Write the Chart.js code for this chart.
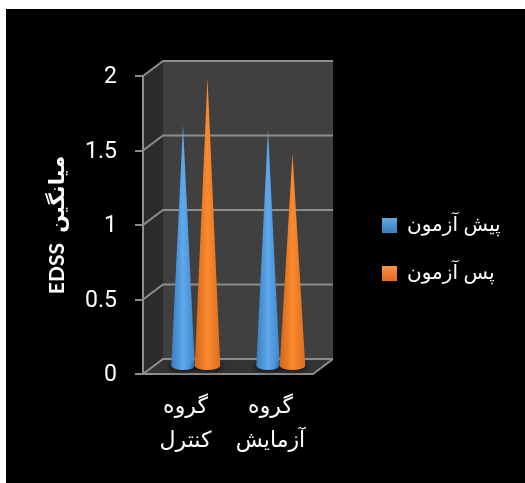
<!DOCTYPE html>
<html><head><meta charset="utf-8">
<style>html,body{margin:0;padding:0;background:#fff;overflow:hidden}
#wrap{position:absolute;left:6px;top:9px;width:519px;height:474px;background:#000}
canvas{display:block}</style>
<script src="https://cdn.jsdelivr.net/npm/chart.js@4"></script>
</head><body><div id="wrap"><canvas id="c" width="519" height="474"></canvas></div>
<script>
const categories = [['گروه','کنترل'],['گروه','آزمایش']];
const seriesNames = ['پیش آزمون','پس آزمون'];
const preTest = [1.62, 1.59];
const postTest = [1.94, 1.43];
const yTicks = [0, 0.5, 1, 1.5, 2];
const yTitle = 'EDSS  میانگین';
const coneStops = [['#3a7dbd','#5fa9ec','#3f86c8'],['#d2661b','#fb8a2e','#dc6f1f']];
const swatchStops = [['#74aee2','#3d85c6'],['#fb9a5a','#e8701f']];
const DEPTH_X = 20, DEPTH_Y = 15, LEGEND_W = 212, LEGEND_DX = 41, LEGEND_DY = -30;
const GRID = '#8d8d8d';
const persian = '"Liberation Sans","DejaVu Sans",sans-serif';

const scene = {
  id:'scene',
  beforeInit(chart){
    const lg = chart.legend, fit = lg.fit, draw = lg.draw;
    lg.fit = function(){ fit.call(this); this.width = LEGEND_W; };
    lg.draw = function(){
      const c = this.ctx;
      this.legendItems.forEach((it,i)=>{
        const b = this.legendHitBoxes[i]; if(!b) return;
        const g = c.createLinearGradient(0,b.top,0,b.top+15);
        g.addColorStop(0,swatchStops[i][0]); g.addColorStop(1,swatchStops[i][1]);
        it.fillStyle = g;
      });
      c.save(); c.translate(LEGEND_DX,LEGEND_DY); draw.call(this); c.restore();
    };
  },
  beforeDraw(chart){
    const {ctx,chartArea:a,scales:{y}} = chart;
    const dx=DEPTH_X, dy=DEPTH_Y;
    ctx.save();
    ctx.fillStyle='#404040'; ctx.fillRect(a.left+dx,a.top-dy,a.width,a.height);
    ctx.fillStyle='#2b2b2b'; ctx.beginPath();
    ctx.moveTo(a.left,a.top); ctx.lineTo(a.left+dx,a.top-dy); ctx.lineTo(a.left+dx,a.bottom-dy); ctx.lineTo(a.left,a.bottom); ctx.closePath(); ctx.fill();
    ctx.fillStyle='#333333'; ctx.beginPath();
    ctx.moveTo(a.left,a.bottom); ctx.lineTo(a.left+dx,a.bottom-dy); ctx.lineTo(a.right+dx,a.bottom-dy); ctx.lineTo(a.right,a.bottom); ctx.closePath(); ctx.fill();
    ctx.strokeStyle=GRID; ctx.lineWidth=2;
    y.ticks.forEach(t=>{
      const py=y.getPixelForValue(t.value);
      ctx.beginPath(); ctx.moveTo(a.left,py); ctx.lineTo(a.left+dx,py-dy); ctx.lineTo(a.right+dx,py-dy); ctx.stroke();
    });
    ctx.beginPath(); ctx.moveTo(a.right,a.bottom); ctx.lineTo(a.right+dx,a.bottom-dy); ctx.stroke();
    ctx.restore();
  },
  beforeDatasetDraw(){ return false; },
  afterDatasetsDraw(chart){
    const ctx=chart.ctx;
    chart.data.datasets.forEach((ds,i)=>{
      chart.getDatasetMeta(i).data.forEach(el=>{
        const cx=el.x+DEPTH_X/2-0.25, ay=el.y-DEPTH_Y/2, by=el.base-DEPTH_Y/2;
        const hw=el.width/2+(i?0.5:-0.5), ry=4.5;
        ctx.save();
        ctx.fillStyle='rgba(0,0,0,.55)'; ctx.filter='blur(2px)';
        ctx.beginPath(); ctx.ellipse(cx,by+1,hw+2,ry+1,0,0,Math.PI*2); ctx.fill();
        ctx.filter='none';
        const g=ctx.createLinearGradient(cx-hw,0,cx+hw,0);
        const s=coneStops[i];
        g.addColorStop(0,s[0]); g.addColorStop(.5,s[1]); g.addColorStop(1,s[2]);
        ctx.fillStyle=g;
        ctx.beginPath(); ctx.moveTo(cx,ay); ctx.lineTo(cx+hw,by);
        ctx.ellipse(cx,by,hw,ry,0,0,Math.PI); ctx.closePath(); ctx.fill();
        ctx.restore();
      });
    });
  }
};

new Chart(document.getElementById('c'),{
  type:'bar',
  data:{labels:categories,datasets:[
    {label:seriesNames[0],data:preTest,backgroundColor:'#5b9bd5',barPercentage:1,categoryPercentage:0.576},
    {label:seriesNames[1],data:postTest,backgroundColor:'#f07d2a',barPercentage:1,categoryPercentage:0.576}
  ]},
  plugins:[scene],
  options:{
    responsive:false,animation:false,
    layout:{padding:{top:67,left:0,right:0,bottom:0}},
    plugins:{
      tooltip:{enabled:false},
      legend:{position:'right',align:'center',
        labels:{boxWidth:15,boxHeight:15,padding:28,color:'#fff',font:{family:persian,size:20}}}
    },
    scales:{
      x:{
        afterFit(s){s.height=109;},
        grid:{display:false},
        border:{color:GRID,width:2},
        ticks:{color:'#fff',maxRotation:0,autoSkip:false,padding:8,font:{family:persian,size:22,lineHeight:1.55}}
      },
      y:{
        min:0,max:2,
        afterFit(s){s.width=137;},
        afterBuildTicks(s){s.ticks=yTicks.map(v=>({value:v}));},
        border:{color:GRID,width:2},
        grid:{drawOnChartArea:false,drawTicks:true,tickLength:8,tickColor:GRID,lineWidth:2},
        ticks:{color:'#fff',padding:18,labelOffset:1.5,font:{family:'Roboto',size:23},callback:v=>String(v)},
        title:{display:true,text:yTitle,color:'#fff',padding:{top:39,bottom:0},font:{family:'Lato, "DejaVu Sans"',weight:'bold',size:21}}
      }
    }
  }
});
</script></body></html>
